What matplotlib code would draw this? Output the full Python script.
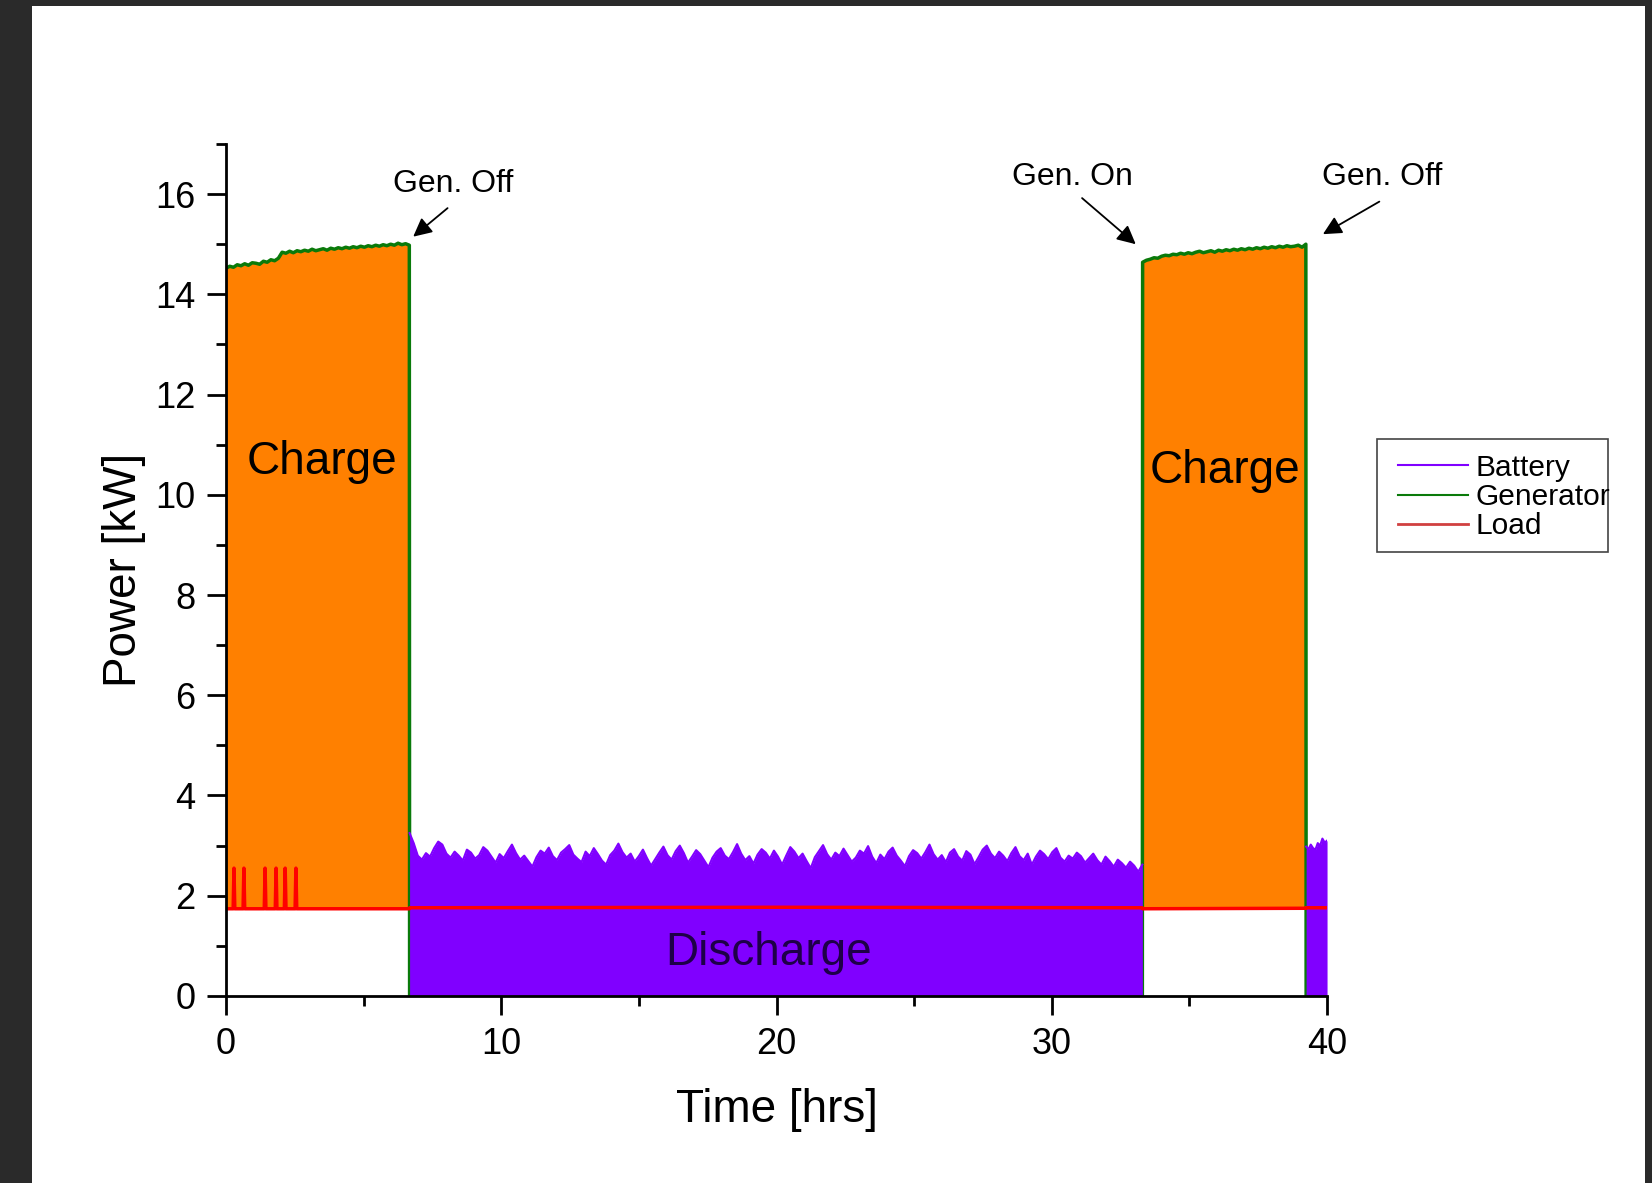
import numpy as np
import matplotlib
matplotlib.use("Agg")
import matplotlib.pyplot as plt
from matplotlib.lines import Line2D
from matplotlib.patches import Rectangle

plt.rcParams['font.family'] = ['Liberation Sans', 'DejaVu Sans']

# --- data ---
# generator output while running, kW
gen1_start, gen1_end = 0.0, 6.66
gen1_kw = [14.52, 14.56, 14.54, 14.59, 14.57, 14.61, 14.58, 14.63, 14.62, 14.60,
           14.66, 14.64, 14.69, 14.67, 14.72, 14.84, 14.82, 14.86, 14.83, 14.87,
           14.85, 14.88, 14.86, 14.90, 14.87, 14.89, 14.91, 14.88, 14.92, 14.90,
           14.93, 14.91, 14.94, 14.92, 14.95, 14.93, 14.96, 14.94, 14.97, 14.95,
           14.98, 14.96, 14.99, 14.97, 15.00, 14.98, 15.02, 14.99, 15.01, 14.98]
gen2_start, gen2_end = 33.30, 39.23
gen2_kw = [14.64, 14.68, 14.70, 14.73, 14.72, 14.76, 14.78, 14.77, 14.80, 14.79,
           14.82, 14.80, 14.83, 14.81, 14.84, 14.86, 14.83, 14.85, 14.87, 14.84,
           14.88, 14.86, 14.89, 14.87, 14.90, 14.88, 14.91, 14.89, 14.92, 14.90,
           14.93, 14.91, 14.94, 14.92, 14.95, 14.93, 14.96, 14.94, 14.97, 14.95,
           14.96, 14.98, 14.94, 15.00]

# battery discharge, kW
bat1_start, bat1_end = 6.67, 33.29
bat1_kw = [3.25, 3.05, 2.80, 2.72, 2.85, 2.78, 2.95, 3.08, 3.02, 2.84,
           2.76, 2.88, 2.80, 2.70, 2.92, 2.86, 2.74, 2.81, 2.97, 2.90,
           2.78, 2.66, 2.83, 2.75, 2.89, 3.02, 2.85, 2.72, 2.80, 2.69,
           2.58, 2.77, 2.90, 2.84, 2.96, 2.79, 2.71, 2.86, 2.93, 3.01,
           2.82, 2.74, 2.67, 2.88, 2.79, 2.95, 2.83, 2.70, 2.62, 2.81,
           2.90, 3.04, 2.87, 2.76, 2.84, 2.68, 2.79, 2.92, 2.75, 2.60,
           2.73, 2.86, 2.98, 2.81, 2.72, 2.89, 3.00, 2.85, 2.66, 2.78,
           2.91, 2.83, 2.70, 2.57, 2.76, 2.88, 2.95, 2.80, 2.73, 2.87,
           3.03, 2.84, 2.71, 2.79, 2.64, 2.82, 2.93, 2.86, 2.74, 2.90,
           2.78, 2.62, 2.80, 2.97, 2.88, 2.75, 2.84, 2.69, 2.55, 2.77,
           2.89, 3.01, 2.83, 2.72, 2.86, 2.79, 2.94, 2.81, 2.68, 2.76,
           2.90, 2.84, 2.99, 2.78, 2.65, 2.82, 2.73, 2.88, 2.96, 2.80,
           2.70, 2.59, 2.79, 2.91, 2.85, 2.74, 2.87, 3.02, 2.83, 2.72,
           2.81, 2.67, 2.86, 2.93, 2.78, 2.70, 2.89, 2.82, 2.63, 2.77,
           2.92, 3.00, 2.84, 2.75, 2.88, 2.80, 2.69, 2.85, 2.97, 2.79,
           2.71, 2.84, 2.62, 2.78, 2.90, 2.83, 2.73, 2.87, 2.95, 2.76,
           2.68, 2.80, 2.74, 2.86, 2.79, 2.66, 2.75, 2.84, 2.71, 2.62,
           2.78, 2.69, 2.58, 2.72, 2.65, 2.56, 2.68, 2.60, 2.48, 2.62]
bat2_start, bat2_end = 39.24, 40.0
bat2_kw = [2.98, 2.93, 3.02, 2.95, 2.92, 3.05, 3.00, 3.14, 3.06, 3.10]

# load, kW (base level with a few short spikes early on)
load_t = [0.00, 0.26, 0.29, 0.32, 0.62, 0.65, 0.68, 1.39, 1.42, 1.45,
          1.79, 1.82, 1.85, 2.12, 2.15, 2.18, 2.51, 2.54, 2.57, 6.66,
          6.67, 20.0, 33.29, 33.30, 39.23, 39.24, 40.0]
load_kw = [1.74, 1.74, 2.55, 1.74, 1.74, 2.55, 1.74, 1.74, 2.55, 1.74,
           1.74, 2.55, 1.74, 1.74, 2.55, 1.74, 1.74, 2.55, 1.74, 1.74,
           1.76, 1.77, 1.76, 1.74, 1.75, 1.76, 1.76]
load_base = 1.75

annotations = [("Gen. Off", (8.25, 16.2), (8.05, 15.72), (6.80, 15.15)),
               ("Gen. On", (30.75, 16.35), (31.1, 15.92), (33.05, 15.0)),
               ("Gen. Off", (42.0, 16.35), (41.9, 15.85), (39.85, 15.2))]

c_orange = '#ff8000'
c_purple = '#8000ff'
c_green = '#0a7a0a'
c_red = '#ff0000'

# --- figure ---
fig = plt.figure(figsize=(16.52, 11.83), dpi=100, facecolor='#2a2a2a')
fig.patches.append(Rectangle((32 / 1652, 0), (1645 - 32) / 1652, 1 - 6 / 1183,
                             transform=fig.transFigure, facecolor='white',
                             edgecolor='none', zorder=-5))
ax = fig.add_axes([0.1368, 0.1581, 0.6665, 0.7202])
ax.set_facecolor('none')

g1_t = np.linspace(gen1_start, gen1_end, len(gen1_kw))
g2_t = np.linspace(gen2_start, gen2_end, len(gen2_kw))
b1_t = np.linspace(bat1_start, bat1_end, len(bat1_kw))
b2_t = np.linspace(bat2_start, bat2_end, len(bat2_kw))

# charge areas
ax.fill_between(g1_t, load_base, gen1_kw, color=c_orange, lw=0, zorder=1)
ax.fill_between(g2_t, load_base, gen2_kw, color=c_orange, lw=0, zorder=1)

gen_t = np.concatenate([g1_t, [gen1_end + 0.01, gen2_start - 0.01], g2_t,
                        [gen2_end + 0.01, 40.0]])
gen_kw = np.concatenate([gen1_kw, [0, 0], gen2_kw, [0, 0]])
ax.plot(gen_t, gen_kw, color=c_green, lw=2.5, zorder=2)

# discharge areas
for t, v in ((b1_t, bat1_kw), (b2_t, bat2_kw)):
    ax.fill_between(t, 0, v, color=c_purple, lw=0, zorder=3)
    ax.plot(t, v, color=c_purple, lw=1.5, zorder=3)

ax.plot(load_t, load_kw, color=c_red, lw=2.5, zorder=4)

# axes styling
ax.set_xlim(0, 40)
ax.set_ylim(0, 17)
for s in ('top', 'right'):
    ax.spines[s].set_visible(False)
for s in ('left', 'bottom'):
    ax.spines[s].set_linewidth(2)
    ax.spines[s].set_zorder(5)
ax.set_xticks([0, 10, 20, 30, 40])
ax.set_xticks([5, 15, 25, 35], minor=True)
ax.set_yticks(range(0, 17, 2))
ax.set_yticks(range(1, 18, 2), minor=True)
ax.tick_params(which='major', length=14, width=2, labelsize=26, pad=8,
               direction='out')
ax.tick_params(which='minor', length=7, width=2, direction='out')

ax.set_xlabel('Time [hrs]', fontsize=33)
ax.set_ylabel('Power [kW]', fontsize=33)
ax.xaxis.set_label_coords(0.5, -0.108)
ax.yaxis.set_label_coords(-0.073, 0.5)

ax.text(3.5, 10.66, 'Charge', fontsize=33, ha='center', va='center', zorder=6)
ax.text(36.3, 10.48, 'Charge', fontsize=33, ha='center', va='center', zorder=6)
ax.text(19.7, 0.86, 'Discharge', fontsize=33, ha='center', va='center',
        color='#1e0048', zorder=6)

for label, txt_xy, tail, head in annotations:
    ax.text(*txt_xy, label, fontsize=23, ha='center', va='center',
            clip_on=False, zorder=6)
    ax.annotate('', xy=head, xytext=tail, annotation_clip=False,
                arrowprops=dict(arrowstyle='-|>', color='black', lw=1.3,
                                mutation_scale=28, shrinkA=0, shrinkB=0))

# legend box with overflowing text, as in the original
fig.patches.append(Rectangle((1377 / 1652, 1 - 552 / 1183), 231 / 1652,
                             113 / 1183, transform=fig.transFigure,
                             facecolor='white', edgecolor='#444444', lw=1.2,
                             zorder=1))
handles = [Line2D([], [], color=c_purple, lw=1.5),
           Line2D([], [], color=c_green, lw=1.5),
           Line2D([], [], color='#d04040', lw=2)]
fig.legend(handles, ['Battery', 'Generator', 'Load'], loc='center left',
           bbox_to_anchor=(1398 / 1652, 1 - 497 / 1183), frameon=False,
           fontsize=21.5, handlelength=2.35, handletextpad=0.25,
           labelspacing=0.05, borderpad=0, borderaxespad=0)

fig.savefig('out.png', dpi=100, facecolor=fig.get_facecolor())
